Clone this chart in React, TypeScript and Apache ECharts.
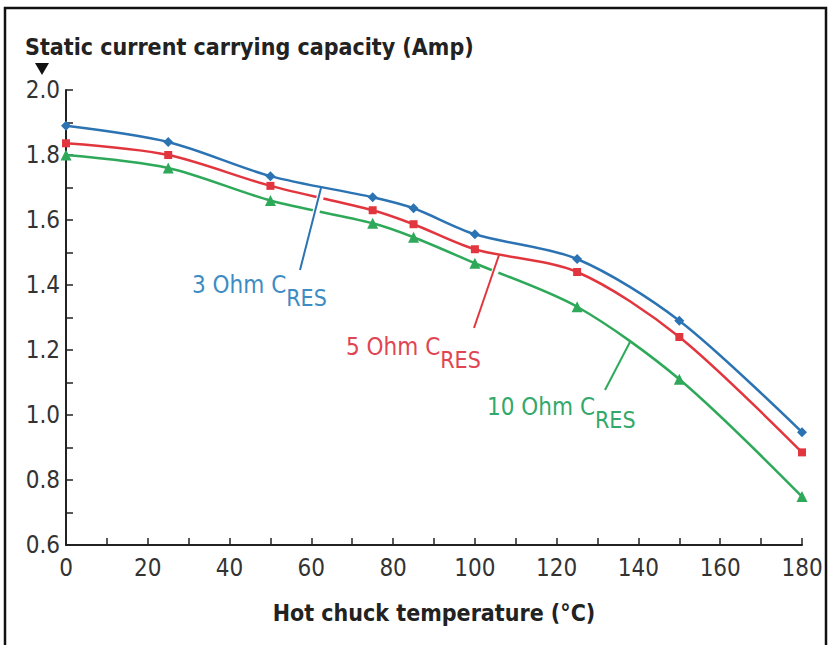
import React, { useEffect, useRef } from "react";
import * as echarts from "echarts";

const temps = [0, 25, 50, 75, 85, 100, 125, 150, 180];
const ohm3 = [1.89, 1.84, 1.735, 1.67, 1.636, 1.556, 1.48, 1.29, 0.947];
const ohm5 = [1.836, 1.80, 1.705, 1.63, 1.587, 1.51, 1.44, 1.24, 0.885];
const ohm10 = [1.80, 1.76, 1.66, 1.59, 1.547, 1.467, 1.333, 1.11, 0.749];

const seriesNames = ["3 Ohm", "5 Ohm", "10 Ohm"];
const yTitle = "Static current carrying capacity (Amp)";
const xTitle = "Hot chuck temperature (°C)";

const BLUE = "#2b73b2";
const RED = "#e2363f";
const GREEN = "#2ea95a";
const FONT = "'Liberation Sans Narrow', 'DejaVu Sans Condensed', 'Liberation Sans', Arial, sans-serif";

export default function App() {
  const ref = useRef<HTMLDivElement>(null);
  useEffect(() => {
    document.body.style.margin = "0";
    const chart = echarts.init(ref.current!, null, { renderer: "svg" });
    const mk = (vals: number[]) => temps.map((t, i) => [t, vals[i]]);
    const axisLine = { show: true, lineStyle: { color: "#222", width: 2 } };
    const tick = { show: true, inside: true, length: 7, lineStyle: { color: "#222", width: 1.5 } };
    const labelLeader = (x1: number, y1: number, x2: number, y2: number, c: string) => [
      { type: "line", shape: { x1, y1: y1 + 6, x2, y2 }, style: { stroke: "#fff", lineWidth: 7 }, z: 100 },
      { type: "line", shape: { x1, y1, x2, y2 }, style: { stroke: c, lineWidth: 2 }, z: 101 },
    ];
    const lbl = (x: number, y: number, main: string, sub: string, c: string) => [
      {
        type: "text",
        x,
        y,
        style: {
          text: `{m|${main}}{s|${sub}}`,
          fill: c,
          font: `24px ${FONT}`,
          textVerticalAlign: "middle",
          rich: {
            m: { fontSize: 24, fontFamily: FONT, fill: c, verticalAlign: "top", padding: [0, 0, 12, 0] },
            s: { fontSize: 23, fontFamily: FONT, fill: c, verticalAlign: "bottom", padding: [12, 0, 0, 0] },
          },
        },
        z: 102,
      },
    ];
    chart.setOption({
      animation: false,
      backgroundColor: "#fff",
      grid: { left: 66, right: 29, top: 90, bottom: 100, containLabel: false },
      xAxis: {
        type: "value",
        min: 0,
        max: 180,
        interval: 20,
        axisLine,
        axisTick: tick,
        minorTick: { show: true, splitNumber: 2, length: 7, lineStyle: { color: "#222", width: 1.5 } },
        splitLine: { show: false },
        axisLabel: { fontSize: 24, color: "#333", margin: 11, fontFamily: FONT },
        name: xTitle,
        nameLocation: "middle",
        nameGap: 56,
        nameTextStyle: { fontSize: 23, fontWeight: "bold", color: "#222", fontFamily: FONT },
      },
      yAxis: {
        type: "value",
        min: 0.6,
        max: 2.0,
        interval: 0.2,
        axisLine,
        axisTick: tick,
        minorTick: { show: true, splitNumber: 2, length: 7, lineStyle: { color: "#222", width: 1.5 } },
        splitLine: { show: false },
        axisLabel: { fontSize: 24, color: "#333", margin: 6, fontFamily: FONT, formatter: (v: number) => v.toFixed(1) },
      },
      series: [
        { name: seriesNames[0], type: "line", data: mk(ohm3), smooth: 0.3, symbol: "diamond", symbolSize: 10, lineStyle: { color: BLUE, width: 2.5 }, itemStyle: { color: BLUE } },
        { name: seriesNames[1], type: "line", data: mk(ohm5), smooth: 0.3, symbol: "rect", symbolSize: 8, lineStyle: { color: RED, width: 2.5 }, itemStyle: { color: RED } },
        { name: seriesNames[2], type: "line", data: mk(ohm10), smooth: 0.3, symbol: "triangle", symbolSize: 11, lineStyle: { color: GREEN, width: 2.5 }, itemStyle: { color: GREEN } },
      ],
      graphic: [
        { type: "rect", shape: { x: 5, y: 8, width: 821, height: 660 }, style: { fill: "none", stroke: "#111", lineWidth: 2.5 }, z: 200 },
        { type: "text", x: 25, y: 47, style: { text: yTitle, fill: "#222", font: `bold 23px ${FONT}`, textVerticalAlign: "middle" } },
        { type: "polygon", shape: { points: [[35, 63], [49, 63], [42, 75]] }, style: { fill: "#111" } },
        ...labelLeader(321, 188, 300, 270, BLUE),
        ...labelLeader(499, 255, 474, 328, RED),
        ...labelLeader(630, 342, 605, 390, GREEN),
        ...lbl(192, 291, "3 Ohm C", "RES", "#3d8cc4"),
        ...lbl(346, 353, "5 Ohm C", "RES", "#e04652"),
        ...lbl(487, 413, "10 Ohm C", "RES", "#33a86a"),
      ],
    });
    return () => chart.dispose();
  }, []);
  return <div ref={ref} style={{ width: 831, height: 645 }} />;
}
